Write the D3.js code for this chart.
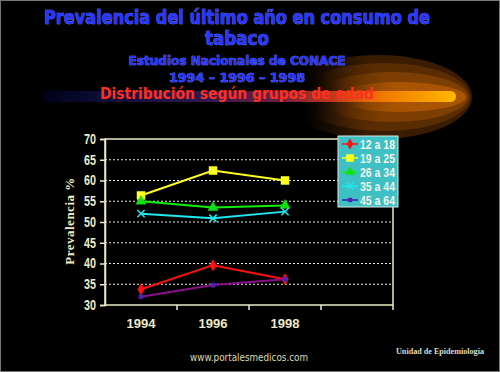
<!DOCTYPE html>
<html>
<head>
<meta charset="utf-8">
<script src="https://cdn.jsdelivr.net/npm/d3@7"></script>
<style>
  html, body { margin: 0; padding: 0; background: #000; }
  svg { display: block; }
</style>
</head>
<body>
<script>
// chart data
var years = ["1994", "1996", "1998"],
    groups = ["12 a 18", "19 a 25", "26 a 34", "35 a 44", "45 a 64"],
    v12_18 = [33.8, 39.6, 36.2],
    v19_25 = [56.4, 62.4, 60.0],
    v26_34 = [55.0, 53.5, 54.0],
    v35_44 = [52.0, 50.9, 52.5],
    v45_64 = [32.0, 34.8, 36.2],
    y_ticks = [30, 35, 40, 45, 50, 55, 60, 65, 70];

var series = [
    {name: groups[0], values: v12_18, line: "#ff1010", mark: "#ff1010", shape: d3.symbolDiamond, size: 38},
    {name: groups[1], values: v19_25, line: "#ffff20", mark: "#ffff20", shape: d3.symbolSquare, size: 64},
    {name: groups[2], values: v26_34, line: "#10f010", mark: "#10e010", shape: d3.symbolTriangle, size: 44},
    {name: groups[3], values: v35_44, line: "#20e8f0", mark: "#20e8f0", shape: d3.symbolX, size: 36},
    {name: groups[4], values: v45_64, line: "#8a108a", mark: "#5020b0", shape: d3.symbolSquare, size: 18}
];

var width = 500, height = 372,
    margins = {left: 105, right: 107, top: 139, bottom: 67},
    beige = "#ecebc8";

var svg = d3.select("body").append("svg")
    .attr("width", width)
    .attr("height", height);

var defs = svg.append("defs");

// background
svg.append("rect").attr("width", width).attr("height", height).attr("fill", "#000");

//comet glow: layered ellipses that fade out to the left
var layers = [
    {id: "g0", cx: 378, rx: 94, ry: 42, col: "#3a1c02"},
    {id: "g1", cx: 384, rx: 86, ry: 34, col: "#5a2c02"},
    {id: "g2", cx: 392, rx: 76, ry: 25, col: "#7c3e02"},
    {id: "g3", cx: 400, rx: 66, ry: 15, col: "#a85402"}
];
layers.forEach(function(l) {
    var g = defs.append("linearGradient").attr("id", l.id).attr("x1", "0%").attr("x2", "100%");
    g.append("stop").attr("offset", "10%").attr("stop-color", l.col).attr("stop-opacity", 0);
    g.append("stop").attr("offset", "45%").attr("stop-color", l.col).attr("stop-opacity", 1);
    g.append("stop").attr("offset", "100%").attr("stop-color", l.col).attr("stop-opacity", 1);
});

var band = defs.append("linearGradient").attr("id", "band").attr("x1", "0%").attr("x2", "100%");
[["0%", "#000018"], ["14%", "#0c0c38"], ["40%", "#301850"], ["58%", "#702040"],
 ["70%", "#c03818"], ["82%", "#f07800"], ["100%", "#ffb800"]].forEach(function(s) {
    band.append("stop").attr("offset", s[0]).attr("stop-color", s[1]);
});

var comet = svg.append("g").attr("class", "comet");
comet.selectAll("ellipse")
    .data(layers)
    .join("ellipse")
    .attr("cx", d => d.cx).attr("cy", 97)
    .attr("rx", d => d.rx).attr("ry", d => d.ry)
    .attr("fill", d => "url(#" + d.id + ")");
comet.append("rect")
    .attr("x", 42).attr("y", 91)
    .attr("width", 414).attr("height", 11)
    .attr("rx", 5.5)
    .attr("fill", "url(#band)");

//titles
var title_font = "'Comic Sans MS', 'DejaVu Sans', sans-serif";
var titles = [
    {t: "Prevalencia del último año en consumo de", x: 237, y: 24, size: 19, len: 386, fill: "#2a36ff"},
    {t: "tabaco", x: 237, y: 45, size: 19, len: 64, fill: "#2a36ff"},
    {t: "Estudios Nacionales de CONACE", x: 237, y: 65, size: 13, len: 217, fill: "#2a36ff"},
    {t: "1994 – 1996 – 1998", x: 237, y: 82, size: 13, len: 136, fill: "#2a36ff"},
    {t: "Distribución según grupos de edad", x: 237, y: 99, size: 16, len: 274, fill: "#ff3020"}
];
svg.selectAll(".title_text")
    .data(titles)
    .join("text")
    .attr("class", "title_text")
    .attr("x", d => d.x)
    .attr("y", d => d.y)
    .attr("text-anchor", "middle")
    .attr("font-family", title_font)
    .attr("font-weight", "bold")
    .attr("font-size", d => d.size)
    .attr("textLength", d => d.len)
    .attr("lengthAdjust", "spacingAndGlyphs")
    .attr("fill", d => d.fill)
    .attr("stroke", d => d.fill === "#ff3020" ? "none" : "#8090ff")
    .attr("stroke-width", 0.6)
    .attr("paint-order", "stroke")
    .text(d => d.t);

//scales
var x_scale = d3.scaleBand()
    .domain(years.concat([""]))
    .range([margins.left, width - margins.right]);

var y_scale = d3.scaleLinear()
    .domain([30, 70])
    .range([height - margins.bottom, margins.top]);

var plot = svg.append("g").attr("class", "plot");

//dotted grid
plot.selectAll(".grid_line")
    .data(y_ticks.filter(d => d > 30 && d < 70))
    .join("line")
    .attr("class", "grid_line")
    .attr("x1", margins.left).attr("x2", width - margins.right)
    .attr("y1", d => y_scale(d)).attr("y2", d => y_scale(d))
    .attr("stroke", "#e8e8e8")
    .attr("stroke-width", 1)
    .attr("stroke-dasharray", "2,2");

//frame
plot.append("rect")
    .attr("x", margins.left).attr("y", margins.top)
    .attr("width", width - margins.left - margins.right)
    .attr("height", height - margins.top - margins.bottom)
    .attr("fill", "none")
    .attr("stroke", beige)
    .attr("stroke-width", 1.5);

//y axis
var tick_font = "'Liberation Sans', Arial, sans-serif";
var y_axis = plot.append("g")
    .attr("transform", "translate(" + margins.left + ",0)")
    .call(d3.axisLeft(y_scale).tickValues(y_ticks).tickSize(5).tickPadding(4));
y_axis.select(".domain").attr("stroke", beige).attr("stroke-width", 1.5);
y_axis.selectAll(".tick line").attr("stroke", beige).attr("stroke-width", 1.5);
y_axis.selectAll(".tick text")
    .attr("fill", beige)
    .attr("font-family", tick_font)
    .attr("font-weight", "bold")
    .attr("font-size", 14)
    .attr("textLength", 12)
    .attr("lengthAdjust", "spacingAndGlyphs");

//x axis: ticks sit on band edges
var x_axis = plot.append("g")
    .attr("transform", "translate(0," + (height - margins.bottom) + ")");
x_axis.selectAll(".x_tick")
    .data(x_scale.domain().slice(1).concat(["end"]))
    .join("line")
    .attr("class", "x_tick")
    .attr("x1", d => d === "end" ? x_scale.range()[1] : x_scale(d))
    .attr("x2", d => d === "end" ? x_scale.range()[1] : x_scale(d))
    .attr("y1", 0).attr("y2", 5)
    .attr("stroke", beige)
    .attr("stroke-width", 1.5);
x_axis.selectAll(".x_label")
    .data(years)
    .join("text")
    .attr("class", "x_label")
    .attr("x", d => x_scale(d) + x_scale.bandwidth() / 2)
    .attr("y", 23)
    .attr("text-anchor", "middle")
    .attr("fill", beige)
    .attr("font-family", tick_font)
    .attr("font-weight", "bold")
    .attr("font-size", 13)
    .text(d => d);

//y label
svg.append("text")
    .attr("transform", "translate(74,221) rotate(-90)")
    .attr("text-anchor", "middle")
    .attr("fill", beige)
    .attr("font-family", "'Liberation Serif', 'Times New Roman', serif")
    .attr("font-weight", "bold")
    .attr("font-size", 13)
    .attr("letter-spacing", 0.5)
    .text("Prevalencia  %");

//lines and markers
var line = d3.line()
    .x((d, i) => x_scale(years[i]) + x_scale.bandwidth() / 2)
    .y(d => y_scale(d));

var series_group = plot.selectAll(".series_group")
    .data(series)
    .join(function(group) {
        var enter = group.append("g").attr("class", "series_group");
        enter.append("path").attr("class", "series_line");
        return enter;
    });

series_group.select(".series_line")
    .attr("d", d => line(d.values))
    .attr("fill", "none")
    .attr("stroke", d => d.line)
    .attr("stroke-width", 2);

series_group.each(function(s) {
    d3.select(this).selectAll(".marker")
        .data(s.values)
        .join("path")
        .attr("class", "marker")
        .attr("transform", (d, i) => "translate(" + (x_scale(years[i]) + x_scale.bandwidth() / 2) + "," + y_scale(d) + ")")
        .attr("d", d3.symbol().type(s.shape).size(s.size))
        .attr("fill", s.mark)
        .attr("stroke", s.mark)
        .attr("stroke-width", s.shape === d3.symbolX ? 1.5 : 0.5);
});

//legend
var legend = svg.append("g").attr("transform", "translate(338,136)");
legend.append("rect")
    .attr("width", 60).attr("height", 71)
    .attr("fill", "#3ec0c4")
    .attr("stroke", "#d8e8e8")
    .attr("stroke-width", 1);

var legend_item = legend.selectAll(".legend_item")
    .data(series)
    .join(function(group) {
        var enter = group.append("g").attr("class", "legend_item");
        enter.append("line");
        enter.append("path");
        enter.append("text");
        return enter;
    })
    .attr("transform", (d, i) => "translate(0," + (8 + i * 14) + ")");

legend_item.select("line")
    .attr("x1", 4).attr("x2", 20)
    .attr("stroke", d => d.line === "#8a108a" ? "#3020b0" : d.line)
    .attr("stroke-width", 1.5);
legend_item.select("path")
    .attr("transform", "translate(12,0)")
    .attr("d", d => d3.symbol().type(d.shape).size(d.size * 0.8)())
    .attr("fill", d => d.mark)
    .attr("stroke", d => d.mark)
    .attr("stroke-width", d => d.shape === d3.symbolX ? 1.5 : 0.5);
legend_item.select("text")
    .attr("x", 22)
    .attr("y", 4.5)
    .attr("fill", "#f4f4e8")
    .attr("font-family", tick_font)
    .attr("font-weight", "bold")
    .attr("font-size", 12)
    .attr("textLength", 35)
    .attr("lengthAdjust", "spacingAndGlyphs")
    .text(d => d.name);

//footer
svg.append("text")
    .attr("x", 249).attr("y", 361)
    .attr("text-anchor", "middle")
    .attr("fill", "#dcdcb8")
    .attr("font-family", "'DejaVu Sans', sans-serif")
    .attr("font-size", 10)
    .attr("textLength", 118)
    .attr("lengthAdjust", "spacingAndGlyphs")
    .text("www.portalesmedicos.com");

svg.append("text")
    .attr("x", 440).attr("y", 354)
    .attr("text-anchor", "middle")
    .attr("fill", "#dcdcc8")
    .attr("font-family", "'Liberation Serif', serif")
    .attr("font-weight", "bold")
    .attr("font-size", 8)
    .attr("textLength", 88)
    .attr("lengthAdjust", "spacingAndGlyphs")
    .text("Unidad de Epidemiología");

//slide border
svg.append("rect")
    .attr("x", 0.5).attr("y", 0.5)
    .attr("width", width - 1).attr("height", height - 1)
    .attr("fill", "none")
    .attr("stroke", "#777")
    .attr("stroke-width", 1);
</script>
</body>
</html>
